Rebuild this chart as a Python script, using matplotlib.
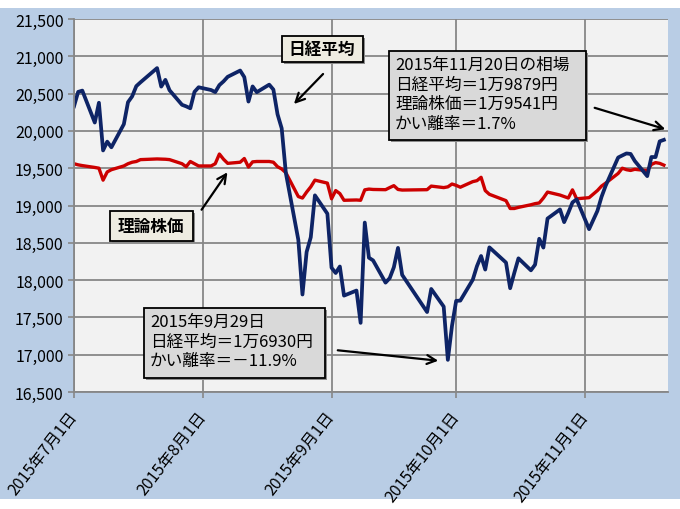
#!/usr/bin/env python3
"""Nikkei average vs theoretical stock price, Jul-Nov 2015."""
import matplotlib
matplotlib.use("Agg")
import matplotlib.pyplot as plt
import matplotlib.dates as mdates
from matplotlib.patches import Rectangle, FancyArrowPatch
from matplotlib.ticker import FuncFormatter
from datetime import datetime

plt.rcParams["font.family"] = ["Noto Sans CJK JP", "DejaVu Sans"]

W, H = 680, 510
BG_BLUE, PANEL, GRIDC = "#B9CDE5", "#F2F2F2", "#878787"
NAVY, RED = "#0E2466", "#CC0000"

# trading days per month (2015)
jul_days = [1, 2, 3, 6, 7, 8, 9, 10, 13, 14, 15, 16, 17, 21, 22, 23, 24, 27, 28, 29, 30, 31]
aug_days = [3, 4, 5, 6, 7, 10, 11, 12, 13, 14, 17, 18, 19, 20, 21, 24, 25, 26, 27, 28, 31]
sep_days = [1, 2, 3, 4, 7, 8, 9, 10, 11, 14, 15, 16, 17, 18, 24, 25, 28, 29, 30]
oct_days = [1, 2, 5, 6, 7, 8, 9, 13, 14, 15, 16, 19, 20, 21, 22, 23, 26, 27, 28, 29, 30]
nov_days = [2, 4, 5, 6, 9, 10, 11, 12, 13, 16, 17, 18, 19, 20]

# 日経平均 (close)
nikkei = [20329, 20523, 20540, 20112, 20377, 19738, 19856, 19780, 20090, 20385, 20463,
          20600, 20651, 20842, 20594, 20684, 20545, 20350, 20329, 20303, 20523, 20585,
          20548, 20520, 20614, 20664, 20725, 20809, 20721, 20393, 20596, 20519, 20620,
          20554, 20223, 20034, 19436, 18541, 17807, 18377, 18574, 19136, 18890,
          18166, 18095, 18182, 17792, 17860, 17427, 18771, 18300, 18264, 17966, 18026,
          18172, 18432, 18070, 17572, 17881, 17645, 16931, 17388,
          17722, 17725, 18005, 18186, 18323, 18141, 18439, 18235, 17891, 18097, 18292,
          18131, 18207, 18554, 18436, 18825, 18947, 18777, 18903, 19041, 19083,
          18683, 18927, 19116, 19266, 19643, 19671, 19698, 19691, 19597, 19394, 19650,
          19649, 19860, 19880]

# 理論株価
theory = [19560, 19545, 19535, 19510, 19500, 19340, 19450, 19480, 19530, 19560, 19580,
          19590, 19615, 19624, 19622, 19620, 19615, 19560, 19520, 19590, 19560, 19530,
          19530, 19560, 19690, 19620, 19565, 19580, 19630, 19515, 19585, 19590, 19590,
          19580, 19520, 19490, 19440, 19120, 19100, 19180, 19250, 19340, 19300,
          19090, 19200, 19160, 19070, 19074, 19070, 19210, 19220, 19215, 19212, 19240,
          19266, 19215, 19207, 19212, 19260, 19240, 19250, 19288,
          19270, 19245, 19320, 19333, 19378, 19200, 19150, 19065, 18960, 18960, 18975,
          19010, 19025, 19034, 19100, 19180, 19140, 19120, 19100, 19210, 19090,
          19105, 19200, 19260, 19300, 19430, 19500, 19480, 19470, 19485, 19467, 19550,
          19575, 19565, 19541]

dates = ([datetime(2015, 7, d) for d in jul_days] + [datetime(2015, 8, d) for d in aug_days]
         + [datetime(2015, 9, d) for d in sep_days] + [datetime(2015, 10, d) for d in oct_days]
         + [datetime(2015, 11, d) for d in nov_days])

tick_months = [7, 8, 9, 10, 11]
y_ticks = [16500, 17000, 17500, 18000, 18500, 19000, 19500, 20000, 20500, 21000, 21500]


def ff(x, y):
    """image pixel (top-left origin) -> figure fraction"""
    return (x / W, 1 - y / H)


fig = plt.figure(figsize=(W / 100, H / 100), dpi=100, facecolor="white")
fig.add_artist(Rectangle(ff(0, 500), 1, 491 / H, transform=fig.transFigure,
                         facecolor=BG_BLUE, edgecolor="none", zorder=-5))

ax = fig.add_axes([74 / W, 1 - 393 / H, (668 - 74) / W, (393 - 20) / H])
ax.set_facecolor(PANEL)
ax.plot(dates, theory, color=RED, lw=2.4, solid_joinstyle="round")
ax.plot(dates, nikkei, color=NAVY, lw=2.7, solid_joinstyle="round")

ax.set_ylim(16500, 21500)
ax.set_yticks(y_ticks)
ax.yaxis.set_major_formatter(FuncFormatter(lambda v, p: f"{int(v):,}"))
ax.set_xlim(datetime(2015, 7, 1), datetime(2015, 11, 21))
ax.set_xticks([mdates.date2num(datetime(2015, m, 1)) for m in tick_months])
ax.set_xticklabels([f"2015年{m}月1日" for m in tick_months], rotation=52,
                   ha="right", va="center", rotation_mode="anchor")
ax.tick_params(axis="both", colors=GRIDC, labelcolor="black", labelsize=11.5,
               length=4, width=1.2)
ax.tick_params(axis="x", pad=11)
ax.grid(color=GRIDC, lw=1.3)
ax.set_axisbelow(True)
for s in ("top", "right"):
    ax.spines[s].set_visible(False)
for s in ("left", "bottom"):
    ax.spines[s].set_color(GRIDC)
    ax.spines[s].set_linewidth(1.3)


def box(x0, y0, x1, y1, fc):
    fig.add_artist(Rectangle(ff(x0 + 2, y1 + 2), (x1 - x0) / W, (y1 - y0) / H,
                             transform=fig.transFigure, facecolor="#8C8C8C",
                             edgecolor="none", zorder=5))
    fig.add_artist(Rectangle(ff(x0, y1), (x1 - x0) / W, (y1 - y0) / H,
                             transform=fig.transFigure, facecolor=fc,
                             edgecolor="black", lw=1.3, zorder=6))


def arrow(x0, y0, x1, y1):
    fig.add_artist(FancyArrowPatch(ff(x0, y0), ff(x1, y1), transform=fig.transFigure,
                                   arrowstyle="->", mutation_scale=16, lw=1.6,
                                   color="black", zorder=7))


# label boxes
box(282, 37, 363, 63, "#EEECE1")
fig.text(*ff(322, 50), "日経平均", ha="center", va="center", fontsize=12,
         fontweight="bold", zorder=8)
arrow(325, 73, 292, 107)

box(110, 212, 193, 242, "#EEECE1")
fig.text(*ff(151, 227), "理論株価", ha="center", va="center", fontsize=12,
         fontweight="bold", zorder=8)
arrow(200, 213, 229, 171)

# data boxes
box(389, 52, 586, 141, "#D9D9D9")
fig.text(*ff(395, 57), "2015年11月20日の相場\n日経平均＝1万9879円\n理論株価＝1万9541円\nかい離率＝1.7%",
         ha="left", va="top", fontsize=12, linespacing=1.2, zorder=8)
arrow(592, 108, 668, 131)

box(144, 309, 325, 379, "#D9D9D9")
fig.text(*ff(150, 314), "2015年9月29日\n日経平均＝1万6930円\nかい離率＝－11.9%",
         ha="left", va="top", fontsize=12, linespacing=1.2, zorder=8)
arrow(335, 351, 441, 362)

fig.savefig("out.png", dpi=100, facecolor="white")
print("wrote out.png")
